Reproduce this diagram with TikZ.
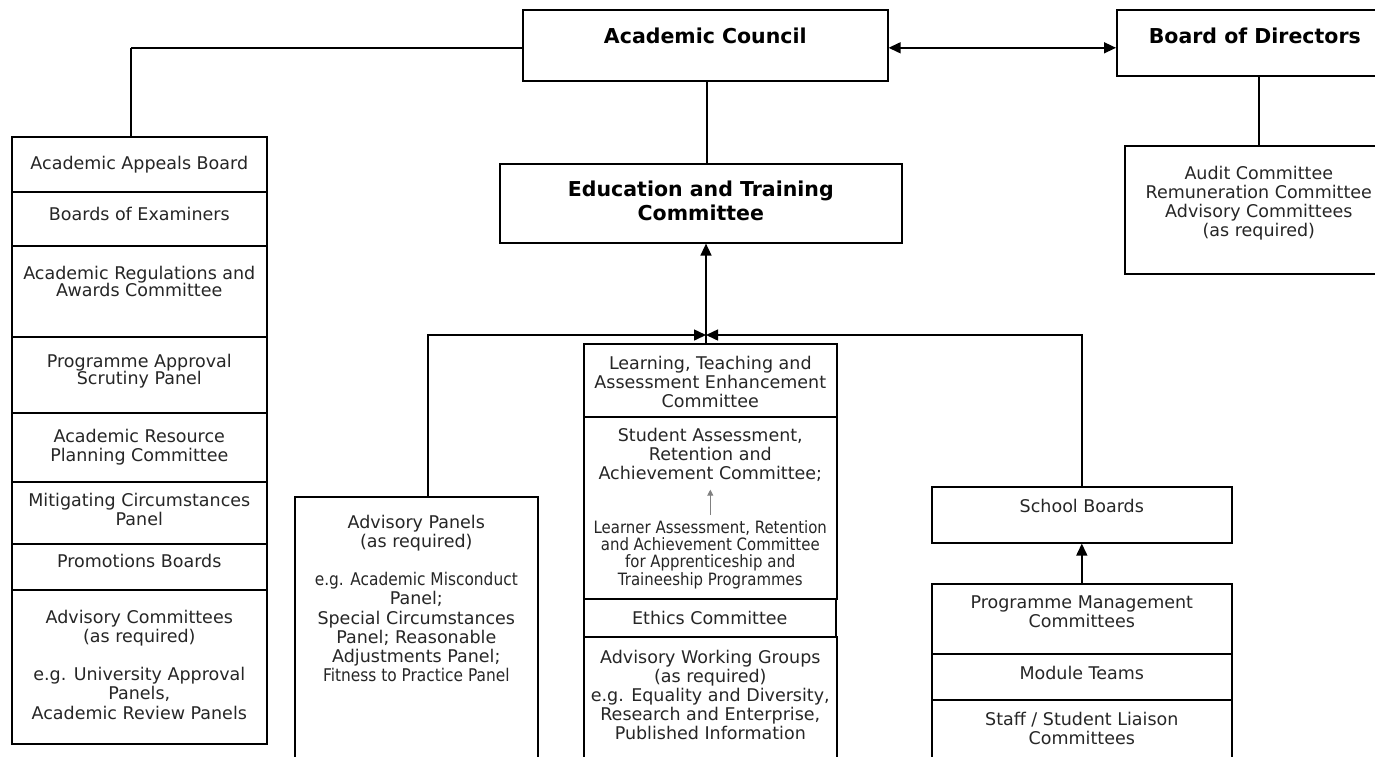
\documentclass[tikz,border=0pt]{standalone}
\usepackage{fontspec}
\setmainfont{DejaVu Sans}
\newfontfamily\condfont[FakeStretch=0.88]{DejaVu Sans}
\usetikzlibrary{arrows.meta,positioning}

\begin{document}
\begin{tikzpicture}[x=1pt, y=-1pt,
    box/.style={draw, line width=1.6pt, inner sep=0pt, anchor=north west},
    txt/.style={align=center, inner sep=0pt, text=black!85,
      font=\fontsize{17.5}{19.2}\selectfont},
    tight/.style={txt, font=\fontsize{17.5}{17.6}\selectfont},
    cond/.style={txt, font=\fontsize{17}{17.3}\selectfont\condfont},
    head/.style={align=center, inner sep=0pt,
      font=\fontsize{20.5}{24.5}\selectfont\bfseries},
    link/.style={line width=1.5pt},
    arr/.style={link, -{Triangle[length=12pt, width=11pt]}},
    >={Triangle[length=12pt, width=11pt]}]
    \fill[white] (0,0) rectangle (1375,756);
    \useasboundingbox (0,0) rectangle (1375,756);
    \clip (0,0) rectangle (1375,756);

    % top level
    \node[box, minimum width=365pt, minimum height=71pt] (ac) at (522,9) {};
    \node[head, below=18.5pt of ac.north] (ac-t) {Academic Council};
    \node[box, minimum width=284pt, minimum height=66pt] (bod) at (1116,9) {};
    \node[head, below=18.5pt of bod.north, xshift=-4pt] (bod-t) {Board of Directors};
    \node[box, minimum width=402pt, minimum height=79pt] (etc) at (499,163) {};
    \node[head, below=17.5pt of etc.north] (etc-t) {Education and Training\\Committee};
    \node[box, minimum width=268pt, minimum height=128pt] (audit) at (1124,145) {};
    \node[txt, below=20.5pt of audit.north] (audit-t) {Audit Committee\\Remuneration Committee\\Advisory Committees\\(as required)};

    % left stack
    \node[box, minimum width=255pt, minimum height=55pt] (aab) at (11,136) {};
    \node[txt, below=19.5pt of aab.north] (aab-t) {Academic Appeals Board};
    \node[box, minimum width=255pt, minimum height=54pt] (boe) at (11,191) {};
    \node[txt, below=15.5pt of boe.north] (boe-t) {Boards of Examiners};
    \node[box, minimum width=255pt, minimum height=91pt] (arac) at (11,245) {};
    \node[tight, below=20.5pt of arac.north] (arac-t) {Academic Regulations and\\Awards Committee};
    \node[box, minimum width=255pt, minimum height=76pt] (pasp) at (11,336) {};
    \node[tight, below=17.5pt of pasp.north] (pasp-t) {Programme Approval\\Scrutiny Panel};
    \node[box, minimum width=255pt, minimum height=69pt] (arpc) at (11,412) {};
    \node[txt, below=16.5pt of arpc.north] (arpc-t) {Academic Resource\\Planning Committee};
    \node[box, minimum width=255pt, minimum height=62pt] (mcp) at (11,481) {};
    \node[txt, below=11.5pt of mcp.north] (mcp-t) {Mitigating Circumstances\\Panel};
    \node[box, minimum width=255pt, minimum height=46pt] (pb) at (11,543) {};
    \node[txt, below=10.5pt of pb.north] (pb-t) {Promotions Boards};
    \node[box, minimum width=255pt, minimum height=154pt] (advc) at (11,589) {};
    \node[txt, below=20.5pt of advc.north] (advc-t) {Advisory Committees\\(as required)\\[19.2pt]e.g. University Approval\\Panels,\\Academic Review Panels};

    % advisory panels
    \node[box, minimum width=243pt, minimum height=280pt] (ap) at (294,496) {};
    \node[txt, below=18.5pt of ap.north] (ap-t) {Advisory Panels\\(as required)\\[19.2pt]{\condfont e.g. Academic Misconduct}\\Panel;\\Special Circumstances\\Panel; Reasonable\\Adjustments Panel;\\{\condfont Fitness to Practice Panel}};

    % middle stack
    \node[box, minimum width=253pt, minimum height=73pt] (ltae) at (583,343) {};
    \node[txt, below=12.5pt of ltae.north] (ltae-t) {Learning, Teaching and\\Assessment Enhancement\\Committee};
    \node[box, minimum width=253pt, minimum height=182pt] (sara) at (583,416) {};
    \node[txt, below=11.5pt of sara.north] (sara-t) {Student Assessment,\\Retention and\\Achievement Committee;};
    \node[cond, below=104pt of sara.north] (lar-t) {Learner Assessment, Retention\\and Achievement Committee\\for Apprenticeship and\\Traineeship Programmes};
    \node[box, minimum width=252pt, minimum height=38pt] (eth) at (583,598) {};
    \node[txt, below=12.5pt of eth.north] (eth-t) {Ethics Committee};
    \node[box, minimum width=253pt, minimum height=140pt] (awg) at (583,636) {};
    \node[txt, below=13.5pt of awg.north] (awg-t) {Advisory Working Groups\\(as required)\\e.g. Equality and Diversity,\\Research and Enterprise,\\Published Information};

    % right stack
    \node[box, minimum width=300pt, minimum height=56pt] (sb) at (931,486) {};
    \node[txt, below=12.5pt of sb.north] (sb-t) {School Boards};
    \node[box, minimum width=300pt, minimum height=70pt] (pmc) at (931,583) {};
    \node[txt, below=12.5pt of pmc.north] (pmc-t) {Programme Management\\Committees};
    \node[box, minimum width=300pt, minimum height=46pt] (mt) at (931,653) {};
    \node[txt, below=12.5pt of mt.north] (mt-t) {Module Teams};
    \node[box, minimum width=300pt, minimum height=80pt] (sslc) at (931,699) {};
    \node[txt, below=12.5pt of sslc.north] (sslc-t) {Staff / Student Liaison\\Committees};

    % connectors
    \coordinate (hub) at (706,335);
    \draw[link] ([xshift=-8.5pt, yshift=-2.5pt]aab.north |- ac.west) -- ([yshift=-2.5pt]ac.west);
    \draw[link] ([xshift=-8.5pt]aab.north) -- ([xshift=-8.5pt, yshift=-2.5pt]aab.north |- ac.west);
    \draw[<->, link] ([yshift=-2.5pt]ac.east) -- ([yshift=-2.5pt]ac.east -| bod.west);
    \draw[link] ([xshift=1.5pt]ac.south) -- ([xshift=1.5pt]ac.south |- etc.north);
    \draw[link] (bod.south) -- (audit.north);
    \draw[arr] (hub |- ltae.north) -- (hub |- etc.south);
    \draw[arr] ([xshift=11.5pt]ap.north) |- (hub);
    \draw[arr] (sb.north) |- (hub);
    \draw[arr] (pmc.north) -- (sb.south);
    \draw[gray, line width=1pt, -{Triangle[length=6pt, width=6pt]},
      shorten <=5pt, shorten >=8pt] (lar-t.north) -- (sara-t.south);
\end{tikzpicture}
\end{document}
